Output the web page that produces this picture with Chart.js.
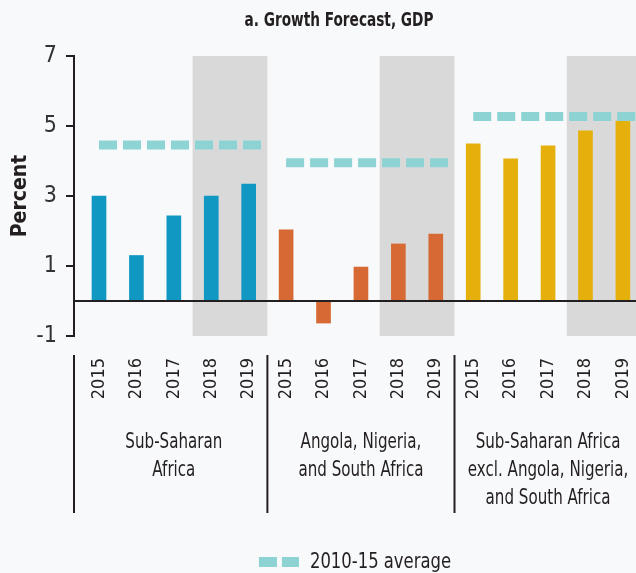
<!DOCTYPE html>
<html>
<head>
<meta charset="utf-8">
<script src="https://cdn.jsdelivr.net/npm/chart.js@4/dist/chart.umd.min.js"></script>
<style>
  html, body { margin: 0; padding: 0; background: #f8f9fb; overflow: hidden; }
  #wrap { width: 636px; height: 573px; position: relative; }
</style>
</head>
<body>
<div id="wrap"><canvas id="chart"></canvas></div>
<script>
// growth forecast, GDP (percent) -- three regional groups
const YEARS = [2015, 2016, 2017, 2018, 2019];
const GROUPS = [
  ['Sub-Saharan', 'Africa'],
  ['Angola, Nigeria,', 'and South Africa'],
  ['Sub-Saharan Africa', 'excl. Angola, Nigeria,', 'and South Africa'],
];
const SSA      = [3.0, 1.3, 2.43, 3.0, 3.34];
const BIG3     = [2.03, -0.63, 0.97, 1.63, 1.91];
const SSA_EXCL = [4.49, 4.06, 4.43, 4.86, 5.14];
const AVERAGES = [4.46, 3.95, 5.27];          // 2010-15 average per group
const FORECAST = [2018, 2019];                // shaded years
const COLORS   = ['#1097c2', '#d66934', '#e6b00c'];
const AVG_COLOR = '#8dd3d3';
const AVG_LABEL = '2010-15 average';
const TITLE = 'a. Growth Forecast, GDP';

const FONT = '"DejaVu Sans Condensed", "Liberation Sans Narrow", sans-serif';
const INK = '#231f20';
const X_MIN = -0.668, X_MAX = 14.35;

const series = [SSA, BIG3, SSA_EXCL];
const n = YEARS.length;

const barPoints = [], barColors = [];
series.forEach((vals, g) => vals.forEach((v, i) => {
  barPoints.push({ x: g * n + i, y: v });
  barColors.push(COLORS[g]);
}));

const avgSets = AVERAGES.map((a, g) => ({
  type: 'line',
  data: [{ x: g * n, y: a }, { x: g * n + n - 0.65, y: a }],
  borderColor: AVG_COLOR,
  borderWidth: 9,
  borderDash: [18, 6],
  borderCapStyle: 'butt',
  pointRadius: 0,
  order: 0,
}));

// narrow text: the original face is a condensed one, squeeze horizontally
function narrowText(ctx, text, x, y, sx) {
  ctx.save();
  ctx.translate(x, y);
  ctx.scale(sx, 1);
  ctx.fillText(text, 0, 0);
  ctx.restore();
}

const decor = {
  id: 'decor',
  beforeDatasetsDraw(chart) {
    const { ctx, chartArea: ca, scales: { x } } = chart;
    const i0 = YEARS.indexOf(FORECAST[0]), i1 = YEARS.indexOf(FORECAST[FORECAST.length - 1]);
    ctx.save();
    ctx.fillStyle = '#d9d9d9';
    for (let g = 0; g < series.length; g++) {
      const x0 = Math.max(ca.left, x.getPixelForValue(g * n + i0 - 0.5));
      const x1 = Math.min(ca.right, x.getPixelForValue(g * n + i1 + 0.5));
      ctx.fillRect(x0, ca.top, x1 - x0, ca.bottom - ca.top);
    }
    ctx.restore();
  },
  afterDatasetsDraw(chart) {
    const { ctx, chartArea: ca, scales: { y } } = chart;
    const y0 = y.getPixelForValue(0);
    ctx.save();
    ctx.strokeStyle = INK;
    ctx.lineWidth = 2;
    ctx.beginPath();
    ctx.moveTo(ca.left, y0);
    ctx.lineTo(ca.right, y0);
    ctx.stroke();
    ctx.restore();
  },
  afterDraw(chart) {
    const { ctx, chartArea: ca, scales: { x } } = chart;
    ctx.save();
    ctx.fillStyle = INK;
    ctx.textAlign = 'center';
    ctx.textBaseline = 'middle';

    // title
    ctx.font = 'bold 19px ' + FONT;
    narrowText(ctx, TITLE, 339, 21, 0.8);

    // group separators
    ctx.strokeStyle = INK;
    ctx.lineWidth = 2;
    for (let g = 0; g < series.length; g++) {
      const sx = g === 0 ? ca.left : x.getPixelForValue(g * n - 0.5);
      ctx.beginPath();
      ctx.moveTo(sx, ca.bottom + 19);
      ctx.lineTo(sx, ca.bottom + 177);
      ctx.stroke();
    }

    // group labels
    ctx.font = '21px ' + FONT;
    GROUPS.forEach((lines, g) => {
      const cx = x.getPixelForValue(g * n + (n - 1) / 2);
      lines.forEach((t, k) => narrowText(ctx, t, cx, ca.bottom + 107 + k * 28, 0.8));
    });

    // legend
    ctx.font = '22px ' + FONT;
    const tw = ctx.measureText(AVG_LABEL).width * 0.83;
    const total = 40 + 11 + tw;
    const lx = (ca.left + ca.right) / 2 - total / 2;
    const ly = 562;
    ctx.fillStyle = AVG_COLOR;
    ctx.fillRect(lx, ly - 5, 18, 10);
    ctx.fillRect(lx + 23, ly - 5, 17, 10);
    ctx.fillStyle = INK;
    ctx.textAlign = 'left';
    narrowText(ctx, AVG_LABEL, lx + 51, ly, 0.83);
    ctx.restore();
  },
};

new Chart(document.getElementById('chart'), {
  type: 'bar',
  data: {
    datasets: [
      ...avgSets,
      {
        type: 'bar',
        data: barPoints,
        backgroundColor: barColors,
        barThickness: 14,
        order: 1,
      },
    ],
  },
  options: {
    responsive: true,
    maintainAspectRatio: false,
    animation: false,
    devicePixelRatio: 1,
    layout: { padding: { top: 56, left: 0, right: 0, bottom: 147 } },
    plugins: {
      legend: { display: false },
      tooltip: { enabled: false },
    },
    scales: {
      x: {
        type: 'linear',
        offset: false,
        min: X_MIN,
        max: X_MAX,
        afterBuildTicks: s => { s.ticks = barPoints.map(p => ({ value: p.x })); },
        afterFit: s => { s.height = 90; s.paddingLeft = 0; s.paddingRight = 0; },
        ticks: {
          autoSkip: false,
          minRotation: 90,
          maxRotation: 90,
          padding: 22,
          color: INK,
          font: { family: FONT, size: 18 },
          callback: v => String(YEARS[v % n]),
        },
        grid: { display: false, drawTicks: false, offset: false },
        border: { display: false },
      },
      y: {
        min: -1,
        max: 7,
        afterFit: s => { s.width = 74; },
        ticks: {
          stepSize: 2,
          padding: 9,
          color: '#333',
          font: { family: FONT, size: 23 },
        },
        grid: { drawOnChartArea: false, drawTicks: true, tickLength: 8, color: INK, lineWidth: 2 },
        border: { display: true, color: INK, width: 2 },
        title: {
          display: true,
          text: 'Percent',
          color: INK,
          padding: { top: 8, bottom: 0 },
          font: { family: FONT, size: 21, weight: 'bold' },
        },
      },
    },
  },
  plugins: [decor],
});
</script>
</body>
</html>
